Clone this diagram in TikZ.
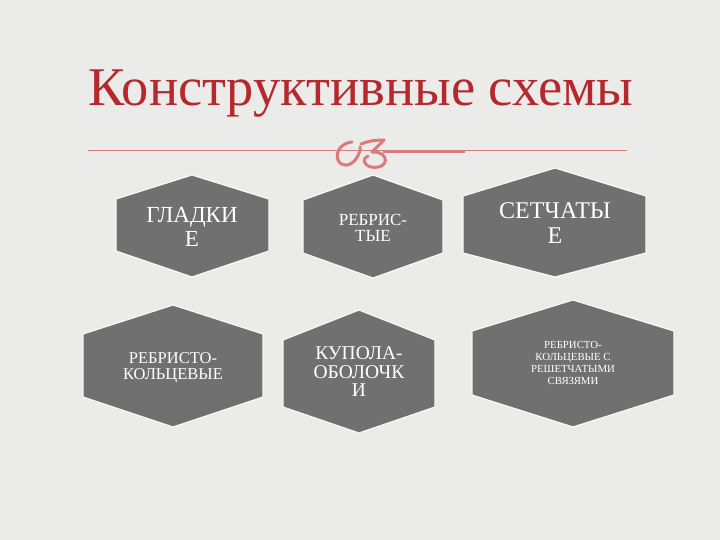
\documentclass[tikz,border=0pt]{standalone}
\usepackage{fontspec}
\setmainfont{Liberation Serif}
\definecolor{bgc}{HTML}{EBEBE9}
\definecolor{titlered}{HTML}{B5282E}
\definecolor{linepink}{HTML}{D27C7C}
\definecolor{ornpink}{HTML}{DC7A7B}
\definecolor{hexgray}{HTML}{707070}
\tikzset{
  hexbox/.style={fill=hexgray, draw=white!70!bgc, line width=1.2pt, line join=miter},
  hextext/.style={text=white, align=center, inner sep=0pt},
}
\begin{document}
\begin{tikzpicture}[x=1pt,y=-1pt]
\useasboundingbox (0,0) rectangle (720,540);
\fill[bgc] (0,0) rectangle (720,540);
% title
\node[anchor=base west, inner sep=0pt, text=titlered, font=\fontsize{54.5}{60}\selectfont] (title) at (88,106) {Конструктивные схемы};
% rules
\draw[linepink, line width=1pt] (88,151) -- (627,151);
\draw[ornpink, line width=2pt] (383,152) -- (465,152);
% ornament
\draw[ornpink, line width=3pt, line cap=round]
  (352,142) .. controls (341,143) and (335,152) .. (338,160)
  .. controls (341,167) and (350,167) .. (356,159)
  .. controls (359,154) and (361,150) .. (360,147);
\draw[ornpink, line width=3pt, line cap=round, line join=round]
  (361,144) .. controls (368,141) and (376,140) .. (384,140)
  -- (372,152)
  .. controls (390,151) and (390,170) .. (371,167)
  .. controls (363,165) and (362,158) .. (368,156);
% hexagons
\fill[hexbox] (116,199) -- (192,175) -- (269,199) -- (269,251) -- (192,277) -- (116,251) -- cycle;
\fill[hexbox] (303,200) -- (373,175) -- (443,200) -- (443,253) -- (373,278) -- (303,253) -- cycle;
\fill[hexbox] (463,196) -- (555,168) -- (646,196) -- (646,253) -- (555,277) -- (463,253) -- cycle;
\fill[hexbox] (83,334) -- (173,305) -- (263,334) -- (263,397) -- (173,427) -- (83,397) -- cycle;
\fill[hexbox] (283,340) -- (359,310) -- (435,340) -- (435,407) -- (359,433) -- (283,407) -- cycle;
\fill[hexbox] (472,331) -- (573,300) -- (674,331) -- (674,395) -- (573,427) -- (472,395) -- cycle;
% labels
\node[hextext, font=\fontsize{23}{23.5}\selectfont] (h1) at (192,227) {ГЛАДКИ\\Е};
\node[hextext, font=\fontsize{17}{16}\selectfont] (h2) at (373,228) {РЕБРИС-\\ТЫЕ};
\node[hextext, font=\fontsize{24}{25}\selectfont] (h3) at (555,223) {СЕТЧАТЫ\\Е};
\node[hextext, font=\fontsize{16.5}{15.5}\selectfont] (h4) at (173,368) {РЕБРИСТО-\\КОЛЬЦЕВЫЕ};
\node[hextext, font=\fontsize{19.5}{18.5}\selectfont] (h5) at (359,372) {КУПОЛА-\\ОБОЛОЧК\\И};
\node[hextext, font=\fontsize{10.8}{12.3}\selectfont] (h6) at (573,363) {РЕБРИСТО-\\КОЛЬЦЕВЫЕ С\\РЕШЕТЧАТЫМИ\\СВЯЗЯМИ};
\end{tikzpicture}
\end{document}
